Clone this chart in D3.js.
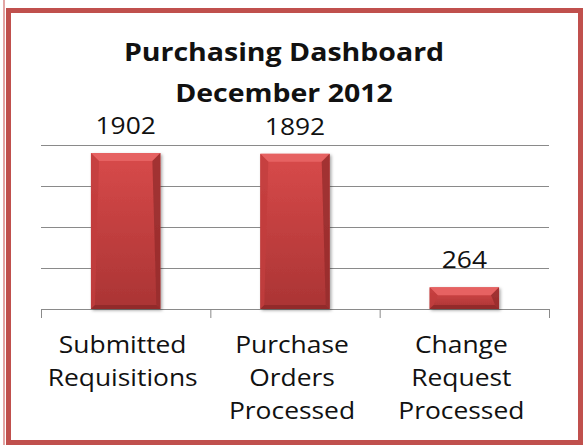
<!DOCTYPE html>
<html lang="en">
    <head>
        <meta charset="utf-8">
        <title>Purchasing Dashboard</title>
        <script type="text/javascript" src="https://d3js.org/d3.v7.min.js"></script>
        <style type="text/css">
            body {
                margin: 0;
                background: white;
            }
            svg text {
                font-family: "Open Sans", "Noto Sans", sans-serif;
                fill: #111;
            }
            .grid line {
                stroke: #8a8a8a;
                stroke-width: 1;
            }
            .xaxis path,
            .xaxis line {
                stroke: #8a8a8a;
                stroke-width: 1;
            }
        </style>
    </head>
    <body>
        <script type="text/javascript">

            const width = 584;
            const height = 445;

            // chart data
            const categories = [
                ["Submitted", "Requisitions"],
                ["Purchase", "Orders", "Processed"],
                ["Change", "Request", "Processed"]
            ];
            const values = [1902, 1892, 264];
            const yTicks = [0, 500, 1000, 1500, 2000];
            const titleLines = ["Purchasing Dashboard", "December 2012"];

            const plotLeft = 41, plotRight = 549;
            const plotTop = 145, plotBottom = 309;

            const svg = d3.select("body")
                          .append("svg")
                          .attr("width", width)
                          .attr("height", height);

            const defs = svg.append("defs");

            // bar face gradient
            const face = defs.append("linearGradient")
                             .attr("id", "face")
                             .attr("x1", 0).attr("y1", 0)
                             .attr("x2", 0).attr("y2", 1);
            face.append("stop").attr("offset", "0%").attr("stop-color", "#d84a4a");
            face.append("stop").attr("offset", "100%").attr("stop-color", "#aa3434");

            const shadow = defs.append("filter")
                               .attr("id", "shadow")
                               .attr("x", "-20%").attr("y", "-20%")
                               .attr("width", "150%").attr("height", "150%");
            shadow.append("feDropShadow")
                  .attr("dx", 1.5).attr("dy", 1.5)
                  .attr("stdDeviation", 1.5)
                  .attr("flood-color", "#000")
                  .attr("flood-opacity", 0.35);

            // frame
            svg.append("line")
               .attr("x1", 4).attr("x2", 4)
               .attr("y1", 0).attr("y2", height)
               .attr("stroke", "#d06a68")
               .attr("stroke-width", 1.2);

            svg.append("rect")
               .attr("x", 8.5).attr("y", 10.5)
               .attr("width", 572).attr("height", 432)
               .attr("fill", "white")
               .attr("stroke", "#c0504d")
               .attr("stroke-width", 5);

            // scales
            const xScale = d3.scaleBand()
                             .domain(d3.range(values.length))
                             .range([plotLeft, plotRight])
                             .paddingInner(0.59)
                             .paddingOuter(0.295);

            const yScale = d3.scaleLinear()
                             .domain([0, d3.max(yTicks)])
                             .range([plotBottom, plotTop]);

            // category boundaries for the tick marks
            const edgeScale = d3.scaleLinear()
                                .domain([0, values.length])
                                .range([plotLeft, plotRight]);

            // gridlines
            svg.append("g")
               .attr("class", "grid")
               .attr("transform", "translate(" + plotLeft + ",0)")
               .call(d3.axisLeft(yScale)
                       .tickValues(yTicks.slice(1))
                       .tickSize(-(plotRight - plotLeft))
                       .tickFormat(""))
               .call(g => g.select(".domain").remove());

            // bottom axis with ticks between categories
            svg.append("g")
               .attr("class", "xaxis")
               .attr("transform", "translate(0," + plotBottom + ")")
               .call(d3.axisBottom(edgeScale)
                       .tickValues(d3.range(values.length + 1))
                       .tickSize(9)
                       .tickSizeOuter(9)
                       .tickFormat(""));

            // bevelled bars
            const bev = 8;
            const bars = svg.selectAll("g.bar")
                            .data(values)
                            .enter()
                            .append("g")
                            .attr("class", "bar")
                            .attr("filter", "url(#shadow)");

            bars.each(function(d, i) {
                const g = d3.select(this);
                const x0 = xScale(i), x1 = x0 + xScale.bandwidth();
                const y0 = yScale(d), y1 = yScale(0);
                const b = Math.min(bev, (y1 - y0) / 2.5);
                const sb = 4;
                g.append("rect")
                 .attr("x", x0).attr("y", y0)
                 .attr("width", x1 - x0).attr("height", y1 - y0)
                 .attr("fill", "url(#face)");
                // top bevel
                g.append("path")
                 .attr("d", `M${x0},${y0}L${x1},${y0}L${x1 - b},${y0 + b}L${x0 + b},${y0 + b}Z`)
                 .attr("fill", "#e66262");
                // left edge
                g.append("path")
                 .attr("d", `M${x0},${y0}L${x0 + b},${y0 + b}L${x0 + sb},${y1 - sb}L${x0},${y1}Z`)
                 .attr("fill", "#c23d3d")
                 .attr("opacity", 0.8);
                // right edge
                g.append("path")
                 .attr("d", `M${x1},${y0}L${x1 - b},${y0 + b}L${x1 - sb},${y1 - sb}L${x1},${y1}Z`)
                 .attr("fill", "#952c2c")
                 .attr("opacity", 0.8);
                // bottom edge
                g.append("path")
                 .attr("d", `M${x0},${y1}L${x1},${y1}L${x1 - sb},${y1 - sb}L${x0 + sb},${y1 - sb}Z`)
                 .attr("fill", "#8c2828")
                 .attr("opacity", 0.8);
            });

            // helper: horizontally stretched centred text
            function stretchText(x, y, str, size, weight, sx) {
                svg.append("text")
                   .attr("transform", "translate(" + x + "," + y + ") scale(" + sx + ",1)")
                   .attr("text-anchor", "middle")
                   .attr("font-size", size)
                   .attr("font-weight", weight)
                   .text(str);
            }

            // value labels
            values.forEach((v, i) => {
                stretchText(xScale(i) + xScale.bandwidth() / 2, yScale(v) - 19, v, 24, "normal", 1.1);
            });

            // category labels
            categories.forEach((lines, i) => {
                lines.forEach((ln, j) => {
                    stretchText(xScale(i) + xScale.bandwidth() / 2 - 3, 353 + j * 33, ln, 24, "normal", 1.1);
                });
            });

            // title
            titleLines.forEach((ln, j) => {
                stretchText(284, 61 + j * 41, ln, 25, "bold", 1.14);
            });

        </script>
    </body>
</html>
